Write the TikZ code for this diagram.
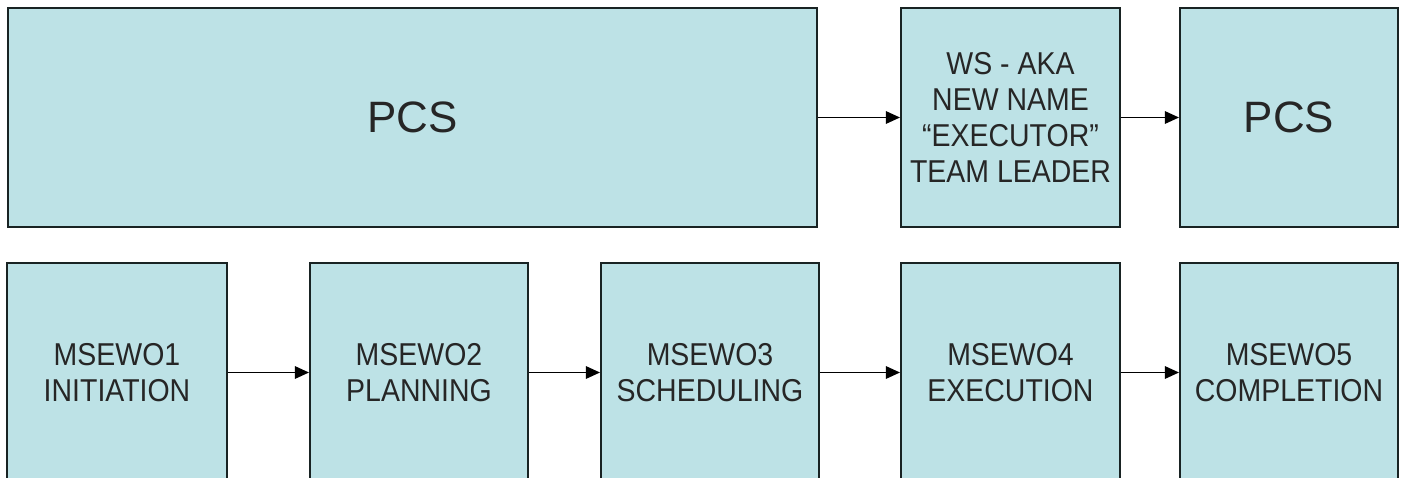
\documentclass[tikz,border=0pt]{standalone}
\usepackage{fontspec}
\setmainfont{Liberation Sans}
\newfontfamily\narrowfont[FakeStretch=0.9,Ligatures=TeX]{Liberation Sans}
\usetikzlibrary{arrows.meta}
\definecolor{boxfill}{RGB}{189,226,230}
\definecolor{boxline}{RGB}{25,35,35}
\begin{document}
\begin{tikzpicture}[x=0.02cm,y=-0.02cm,
  box/.style={draw=boxline,line width=1.1pt,fill=boxfill,inner sep=0pt,
    font=\narrowfont\fontsize{18}{20.5}\selectfont,align=center,text=black!85},
  conn/.style={draw=black,line width=1.1pt,-{Triangle[length=8pt,width=7pt]}}]
\useasboundingbox (0,0) rectangle (1403,477);
\clip (0,0) rectangle (1403,477);
\node[box,minimum width=809*0.02cm,minimum height=219*0.02cm,font=\rmfamily\fontsize{25}{28}\selectfont] (pcs1) at (412.5,117.5) {PCS};
\node[box,minimum width=219*0.02cm,minimum height=219*0.02cm] (ws) at (1010.5,117.5) {WS - AKA\\NEW NAME\\“EXECUTOR”\\TEAM LEADER};
\node[box,minimum width=218*0.02cm,minimum height=219*0.02cm,font=\rmfamily\fontsize{25}{28}\selectfont] (pcs2) at (1289,117.5) {PCS};
\node[box,minimum width=220*0.02cm,minimum height=219*0.02cm] (m1) at (117,372.5) {MSEWO1\\INITIATION};
\node[box,minimum width=218*0.02cm,minimum height=219*0.02cm] (m2) at (419,372.5) {MSEWO2\\PLANNING};
\node[box,minimum width=218*0.02cm,minimum height=219*0.02cm] (m3) at (710,372.5) {MSEWO3\\SCHEDULING};
\node[box,minimum width=219*0.02cm,minimum height=219*0.02cm] (m4) at (1010.5,372.5) {MSEWO4\\EXECUTION};
\node[box,minimum width=218*0.02cm,minimum height=219*0.02cm] (m5) at (1289,372.5) {MSEWO5\\COMPLETION};
\draw[conn] (pcs1.east) -- (ws.west);
\draw[conn] (ws.east) -- (pcs2.west);
\draw[conn] (m1.east) -- (m2.west);
\draw[conn] (m2.east) -- (m3.west);
\draw[conn] (m3.east) -- (m4.west);
\draw[conn] (m4.east) -- (m5.west);
\end{tikzpicture}
\end{document}
